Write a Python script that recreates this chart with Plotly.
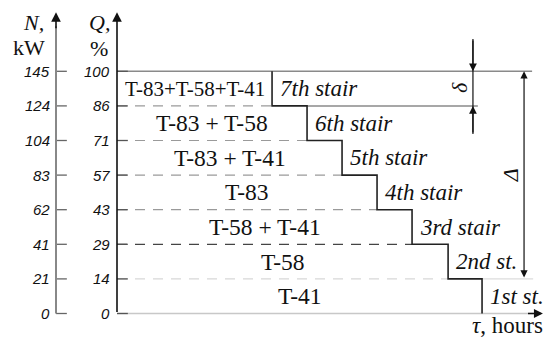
import plotly.graph_objects as go

# tick labels of the two vertical scales (one label per load level)
q_ticks = ["0", "14", "29", "43", "57", "71", "86", "100"]
n_ticks = ["0", "21", "41", "62", "83", "104", "124", "145"]
levels = list(range(len(q_ticks)))

# end of each stair on the time axis (stair 1 .. stair 7)
stair_end = [10.43, 9.46, 8.43, 7.43, 6.43, 5.43, 4.43]
stair_names = ["1st st.", "2nd st.", "3rd stair", "4th stair", "5th stair", "6th stair", "7th stair"]
units = ["T-41", "T-58", "T-58 + T-41", "T-83", "T-83 + T-41", "T-83 + T-58", "T-83+T-58+T-41"]

# dimension marks: small step delta and full range Delta
delta_small = (6, 7)
delta_big = (1, 7)

SERIF = "Liberation Serif"
SANS = "Liberation Sans"

n_axis_x = -1.743     # position of the N axis, left of the Q axis (x=0)
tick_len = 0.31
top = 8.71            # where axis arrows end
x_end = 12.17         # tip of time axis arrow

fig = go.Figure()


def seg(x, y, color, width=1.2, dash="solid"):
    fig.add_trace(go.Scatter(x=x, y=y, mode="lines", hoverinfo="skip",
                             line=dict(color=color, width=width, dash=dash)))


# dashed level lines under each stair
dash_colors = ["#d8d8d8", "#444444", "#9a9a9a", "#9a9a9a", "#9a9a9a", "#9a9a9a"]
for i in range(1, 7):
    seg([0, stair_end[i]], [i, i], dash_colors[i - 1], 1.2, "10px,8px")

# extension lines for the dimensions
seg([0, 11.86], [7, 7], "#8a8a8a", 1.5)
seg([stair_end[5], 10.31], [6, 6], "#8a8a8a", 1.5)
seg([stair_end[0], 11.89], [1, 1], "#dcdcdc", 1.2)
seg([0, 11.9], [0, 0], "#c8c8c8", 1.5)

# staircase
sx, sy = [], []
for i in range(7, 0, -1):
    e = stair_end[i - 1]
    sx += [e, e]
    sy += [i, i - 1]
seg(sx, sy, "#222222", 1.6)

# ticks
tx, ty, nx, ny = [], [], [], []
for lv in levels:
    tx += [0, tick_len, None]
    ty += [lv, lv, None]
    nx += [n_axis_x, n_axis_x + tick_len, None]
    ny += [lv, lv, None]
seg(tx, ty, "#555555", 1.3)
seg(nx, ny, "#666666", 1.3)

# N axis line (gray) and delta dimension line
seg([n_axis_x, n_axis_x], [0, 8.3], "#888888", 2)
seg([10.17, 10.17], [5.19, 7.93], "#111111", 1.2)

annotations = []


def arrow(x0, y0, x1, y1, color="#111111", width=1.5, side="end", size=1.2):
    annotations.append(dict(x=x1, y=y1, ax=x0, ay=y0, xref="x", yref="y", axref="x", ayref="y",
                            text="", showarrow=True, arrowhead=2, arrowsize=size,
                            arrowwidth=width, arrowcolor=color, arrowside=side,
                            standoff=0, startstandoff=0))


# vertical axes with arrows
arrow(n_axis_x, 8.2, n_axis_x, top, "#111111", 1.6)
arrow(0, 0, 0, top, "#111111", 1.6)
# time axis arrow head
arrow(11.7, 0, x_end, 0, "#111111", 1.5)
# delta arrows
arrow(10.17, 7.93, 10.17, delta_small[1], "#111111", 1.3)
arrow(10.17, 5.19, 10.17, delta_small[0], "#111111", 1.3)
arrow(11.63, delta_big[0], 11.63, delta_big[1], "#111111", 1.2, "end+start")

# tick labels
for lv in levels:
    annotations.append(dict(x=n_axis_x - 0.1, y=lv, xref="x", yref="y", text=n_ticks[lv],
                            showarrow=False, xanchor="right",
                            font=dict(family=SANS, size=15, style="italic", color="#111")))
    annotations.append(dict(x=-0.15, y=lv, xref="x", yref="y", text=q_ticks[lv],
                            showarrow=False, xanchor="right",
                            font=dict(family=SANS, size=15, style="italic", color="#111")))

# unit combinations and stair names
for i in range(7):
    lv = i + 0.5
    annotations.append(dict(x=stair_end[i] / 2, y=lv, xref="x", yref="y", text=units[i],
                            showarrow=False,
                            font=dict(family=SERIF, size=21 if i == 6 else 23.5, color="#111")))
    annotations.append(dict(x=stair_end[i], y=lv, xref="x", yref="y", text=stair_names[i],
                            showarrow=False, xanchor="left", xshift=6,
                            font=dict(family=SERIF, size=23, style="italic", color="#111")))

# axis titles
head = [("<i>N,</i>", -2.4, 8.42), ("kW", -2.51, 7.70), ("<i>Q,</i>", -0.51, 8.42), ("%", -0.51, 7.67)]
for t, x, y in head:
    annotations.append(dict(x=x, y=y, xref="x", yref="y", text=t, showarrow=False,
                            font=dict(family=SERIF, size=22, color="#111")))
annotations.append(dict(x=12.22, y=-0.35, xref="x", yref="y", text="<i>τ</i>, hours",
                        showarrow=False, xanchor="right",
                        font=dict(family=SERIF, size=23, color="#111")))
annotations.append(dict(x=9.8, y=6.52, xref="x", yref="y", text="δ", showarrow=False,
                        textangle=-90, font=dict(family=SERIF, size=22, style="italic", color="#111")))
annotations.append(dict(x=11.23, y=4.0, xref="x", yref="y", text="Δ", showarrow=False,
                        textangle=-90, font=dict(family=SERIF, size=22, style="italic", color="#111")))

fig.update_layout(
    width=549, height=343, autosize=False,
    margin=dict(l=0, r=0, t=0, b=0),
    paper_bgcolor="white", plot_bgcolor="white",
    showlegend=False,
    xaxis=dict(visible=False, range=[-117 / 35, (549 - 117) / 35], fixedrange=True),
    yaxis=dict(visible=False, range=[(313.5 - 343) / 34.6, 313.5 / 34.6], fixedrange=True),
    annotations=annotations,
)

# drop the browser's default page margin so the figure fills the window
fig.write_html("out.html", config={"displayModeBar": False},
               post_script="document.body.style.margin='0';")
